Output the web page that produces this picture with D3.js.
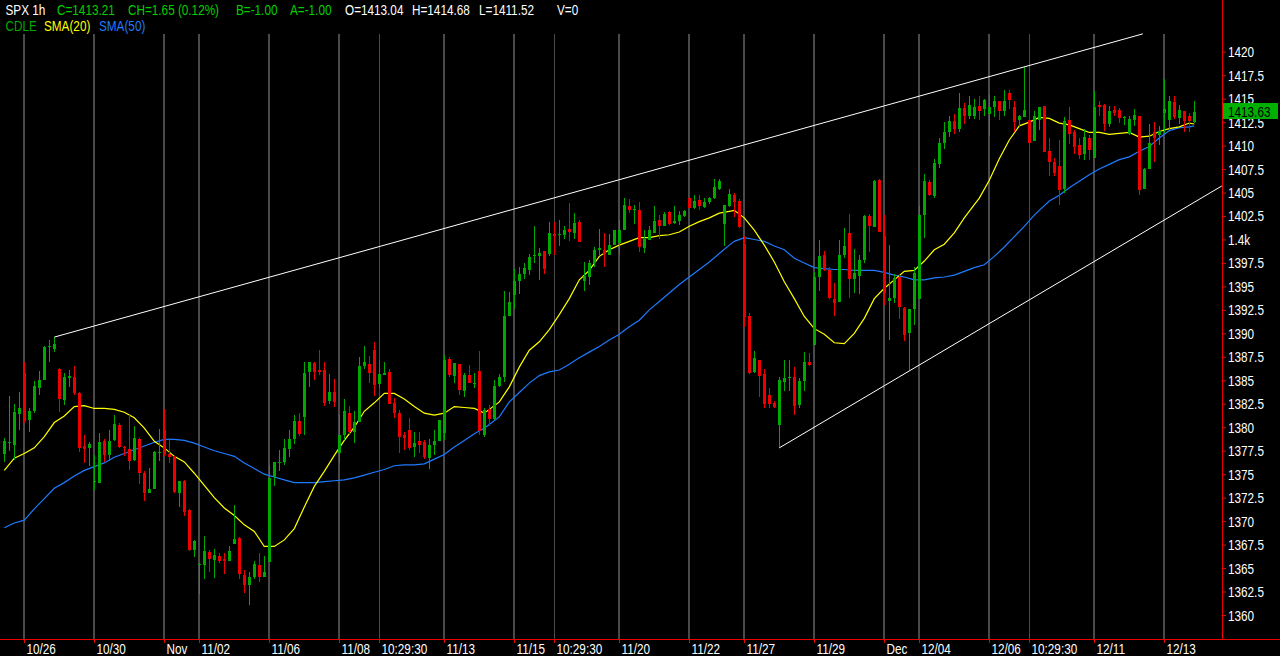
<!DOCTYPE html>
<html><head><meta charset="utf-8">
<script src="https://cdn.jsdelivr.net/npm/d3@7"></script>
<style>html,body{margin:0;padding:0;background:#000;overflow:hidden}</style>
</head><body>
<svg id="c" width="1280" height="656"></svg>
<script>
// ---------- DATA (hourly SPX bars, index 0 = first visible bar) ----------
const opens = [
1377.2,1378.3,1378.1,1381.4,1385.8,1380.8,1381.7,1384.2,1385.0,1388.5,1388.3,1386.2,1382.9,1385.2,1385.4,1383.6,1378.0,1377.8,1374.2,1374.1,
1378.5,1377.0,1378.6,1380.2,1377.9,1377.7,1376.5,1378.7,1375.1,1373.0,1373.4,1377.3,1379.7,1377.2,1376.9,1373.0,1374.3,1371.2,1366.9,1365.4,
1365.3,1366.7,1365.9,1366.3,1366.0,1365.8,1367.6,1368.2,1364.3,1363.2,1364.0,1365.3,1364.0,1365.6,1374.7,1376.2,1376.3,1377.7,1378.7,1380.7,
1381.1,1385.9,1386.8,1386.1,1386.1,1382.8,1383.7,1377.3,1379.2,1381.5,1379.5,1380.6,1386.5,1386.7,1388.2,1384.6,1385.6,1385.9,1382.6,1381.5,
1379.2,1379.7,1377.9,1378.5,1378.4,1376.7,1378.1,1378.5,1379.4,1387.3,1385.5,1386.7,1383.9,1385.6,1384.6,1386.0,1379.2,1381.9,1380.9,1384.4,
1385.4,1391.9,1394.1,1395.6,1396.3,1396.7,1398.2,1398.2,1398.8,1398.5,1400.6,1400.5,1400.5,1401.1,1400.7,1401.9,1395.6,1396.0,1397.5,1398.9,
1398.9,1398.3,1399.4,1399.6,1401.0,1403.6,1403.1,1403.1,1399.1,1399.9,1400.7,1402.1,1401.4,1402.9,1401.8,1402.0,1402.5,1404.4,1403.4,1404.2,
1403.5,1404.0,1404.4,1405.4,1401.6,1403.6,1404.7,1404.1,1399.5,1391.9,1385.9,1387.2,1385.7,1383.4,1382.6,1380.2,1384.8,1385.3,1385.3,1382.4,
1384.9,1386.9,1388.8,1396.0,1398.3,1396.8,1393.7,1393.3,1398.3,1400.7,1395.8,1396.1,1397.8,1402.5,1401.3,1406.3,1400.4,1393.4,1393.8,1396.0,
1392.7,1390.0,1392.6,1393.7,1402.6,1406.1,1404.6,1408.0,1410.3,1411.5,1412.6,1411.8,1414.0,1413.2,1413.1,1414.2,1413.9,1413.4,1414.1,1414.7,
1413.7,1415.6,1414.1,1412.7,1413.0,1412.7,1410.5,1412.7,1414.2,1409.4,1408.2,1407.8,1405.4,1412.7,1411.4,1410.1,1409.1,1410.8,1408.7,1414.3,
1414.3,1412.3,1413.8,1413.8,1413.0,1411.2,1412.7,1413.2,1405.4,1407.5,1411.4,1411.1,1413.5,1412.7,1414.6,1412.9,1413.7,1413.1,1412.5
];
const highs = [
1378.8,1383.3,1382.5,1383.8,1387.0,1382.0,1384.9,1386.0,1388.6,1389.3,1389.6,1386.3,1385.8,1386.1,1386.5,1383.7,1379.2,1378.4,1377.0,1379.4,
1378.7,1379.7,1381.3,1380.4,1378.0,1381.3,1380.1,1378.9,1375.3,1375.7,1377.5,1379.8,1381.9,1378.9,1376.9,1374.3,1374.4,1371.3,1368.0,1365.5,
1368.4,1366.9,1367.0,1366.6,1366.6,1367.3,1371.7,1368.3,1364.8,1364.6,1365.8,1366.6,1366.3,1376.0,1376.3,1377.6,1378.7,1379.7,1381.3,1381.5,
1386.9,1386.9,1386.9,1388.2,1386.9,1385.7,1385.1,1381.3,1383.0,1382.3,1381.7,1387.5,1388.6,1387.6,1389.1,1387.2,1386.9,1386.2,1383.1,1381.8,
1379.5,1381.0,1379.5,1379.5,1378.6,1378.7,1379.7,1380.8,1387.7,1387.5,1386.8,1386.7,1385.8,1386.6,1385.8,1388.1,1382.1,1382.4,1385.0,1385.7,
1394.5,1394.4,1396.9,1397.1,1397.5,1398.5,1401.4,1399.1,1398.8,1401.9,1401.9,1402.1,1401.4,1403.9,1402.8,1402.1,1397.6,1397.8,1399.2,1401.1,
1400.7,1400.6,1401.0,1402.1,1404.4,1404.3,1403.7,1404.0,1401.0,1401.4,1403.6,1402.6,1402.9,1403.0,1403.6,1403.0,1403.1,1407.0,1404.7,1404.7,
1404.4,1404.5,1406.4,1406.4,1403.7,1405.4,1404.9,1404.3,1400.4,1392.2,1388.1,1387.2,1386.2,1384.2,1382.8,1385.3,1387.2,1387.2,1386.4,1385.2,
1388.0,1387.9,1396.5,1399.9,1398.8,1397.1,1395.4,1399.9,1401.2,1402.7,1399.0,1398.3,1402.6,1402.7,1406.3,1406.4,1402.6,1399.4,1396.3,1396.2,
1392.8,1392.6,1397.1,1403.6,1407.0,1406.3,1408.6,1410.8,1412.5,1413.2,1413.4,1415.6,1414.5,1415.3,1415.0,1415.3,1415.0,1415.4,1415.3,1414.7,
1415.9,1415.9,1414.7,1413.3,1418.4,1414.1,1413.7,1414.1,1414.2,1410.8,1408.7,1410.6,1413.0,1414.1,1411.7,1410.8,1411.8,1411.1,1415.8,1414.7,
1414.4,1414.2,1414.2,1414.0,1413.2,1413.1,1413.9,1413.2,1407.6,1412.3,1412.5,1412.1,1417.1,1415.3,1415.3,1414.3,1413.7,1413.5,1414.7
];
const lows = [
1376.3,1377.5,1376.5,1379.7,1380.4,1379.5,1381.5,1383.4,1385.0,1387.0,1388.05,1381.6,1382.4,1384.3,1383.4,1377.4,1376.2,1375.9,1373.3,1374.1,
1376.3,1376.4,1378.5,1377.8,1376.9,1375.4,1376.4,1374.0,1372.1,1373.0,1373.4,1376.4,1376.9,1376.2,1373.0,1371.5,1370.5,1366.8,1366.2,1362.2,
1363.8,1364.6,1363.9,1365.5,1364.4,1365.7,1367.6,1363.8,1362.3,1361.1,1363.8,1363.5,1364.0,1365.6,1373.7,1375.3,1376.0,1376.8,1378.2,1379.1,
1379.2,1384.3,1385.0,1385.6,1382.3,1382.5,1382.2,1376.2,1378.6,1379.3,1378.3,1380.6,1386.2,1384.7,1383.3,1384.2,1385.6,1382.5,1381.0,1377.3,
1377.6,1377.6,1376.8,1377.3,1376.6,1375.5,1377.0,1378.5,1378.6,1385.4,1384.7,1383.4,1383.2,1384.7,1384.2,1379.2,1379.0,1380.1,1380.8,1384.3,
1384.8,1391.9,1392.6,1394.2,1395.8,1396.2,1397.5,1395.7,1396.3,1398.2,1398.3,1399.3,1400.1,1399.8,1400.1,1399.7,1394.5,1395.1,1397.1,1398.3,
1397.1,1398.3,1399.4,1398.4,1401.0,1402.8,1401.7,1398.7,1398.6,1399.9,1400.7,1400.0,1401.4,1401.5,1401.6,1401.5,1402.4,1403.0,1403.2,1403.1,
1403.3,1403.8,1404.3,1405.3,1399.3,1403.5,1402.4,1401.2,1390.7,1385.7,1385.8,1383.2,1382.1,1382.1,1382.1,1377.8,1383.9,1383.9,1381.3,1382.0,
1383.9,1386.5,1388.8,1394.5,1396.6,1393.7,1391.9,1393.3,1398.0,1393.8,1394.3,1394.2,1397.5,1398.7,1401.3,1400.8,1393.0,1389.3,1393.2,1391.5,
1389.2,1386.1,1390.9,1393.7,1400.2,1404.6,1404.4,1407.6,1409.6,1410.9,1411.2,1411.5,1412.3,1412.8,1412.8,1412.7,1413.1,1411.0,1413.0,1412.7,
1413.2,1413.9,1411.5,1412.0,1413.0,1409.9,1410.5,1411.7,1409.3,1406.8,1406.8,1403.7,1405.0,1410.2,1409.1,1408.6,1408.5,1408.5,1408.7,1413.2,
1411.6,1412.0,1413.2,1412.4,1412.2,1411.1,1412.1,1404.7,1405.4,1407.5,1408.3,1410.1,1411.3,1411.7,1412.8,1412.3,1411.4,1411.4,1412.4
];
const closes = [
1378.5,1378.4,1381.6,1382.1,1380.7,1381.7,1384.4,1385.0,1388.5,1388.6,1388.9,1383.0,1385.3,1385.5,1383.6,1377.8,1377.7,1378.2,1374.3,1378.4,
1377.0,1378.5,1380.3,1377.9,1377.8,1376.4,1378.9,1375.1,1373.0,1373.4,1377.4,1377.35,1377.2,1376.8,1373.1,1374.3,1371.0,1366.9,1367.9,1365.45,
1366.8,1366.0,1366.4,1365.8,1365.7,1366.8,1368.1,1364.4,1363.2,1364.0,1365.4,1364.1,1364.6,1374.6,1376.3,1376.3,1377.8,1378.7,1380.7,1379.3,
1385.8,1386.9,1385.9,1385.9,1382.6,1383.7,1382.7,1379.2,1381.7,1379.5,1380.6,1386.5,1386.9,1385.8,1384.5,1385.7,1385.8,1382.5,1381.5,1379.0,
1378.9,1377.8,1378.3,1378.1,1376.8,1378.1,1378.5,1380.8,1387.2,1385.6,1386.8,1384.0,1385.6,1384.7,1384.7,1379.6,1381.8,1380.9,1384.4,1385.4,
1391.9,1393.3,1395.6,1396.3,1397.0,1398.1,1398.3,1398.6,1396.9,1400.7,1400.4,1400.6,1401.0,1400.8,1401.8,1399.7,1396.1,1397.5,1398.9,1399.1,
1398.5,1399.4,1401.0,1401.0,1403.7,1403.1,1403.2,1399.2,1400.1,1401.0,1402.0,1401.4,1402.7,1401.6,1402.0,1402.6,1403.0,1403.4,1404.1,1403.6,
1404.0,1404.4,1405.6,1406.2,1403.7,1404.8,1404.0,1401.3,1391.7,1385.8,1387.4,1385.5,1382.5,1382.5,1382.2,1385.0,1385.2,1385.35,1382.3,1384.9,
1387.0,1386.6,1396.0,1398.2,1396.7,1393.8,1393.2,1398.3,1399.3,1395.8,1396.4,1397.8,1402.5,1401.4,1406.2,1400.8,1394.3,1393.8,1395.9,1392.8,
1389.8,1392.6,1396.4,1402.6,1406.2,1404.7,1408.1,1410.3,1411.5,1412.6,1411.8,1414.0,1413.2,1414.3,1414.1,1413.7,1414.9,1414.1,1414.7,1413.7,
1414.7,1414.9,1412.5,1413.2,1413.8,1410.3,1413.1,1414.1,1409.3,1408.2,1407.1,1405.3,1412.6,1411.2,1409.9,1409.0,1410.9,1409.5,1414.1,1414.1,
1412.3,1413.7,1413.5,1412.9,1413.0,1412.8,1413.3,1405.3,1407.5,1410.3,1410.8,1411.6,1413.9,1414.7,1413.0,1413.8,1412.6,1412.6,1413.63
];
// moving averages (bar index, value)
const sma20Idx = [0,2,4,6,8,10,12,14,16,18,20,22,24,26,28,30,32,34,36,38,40,42,44,46,48,50,52,54,56,58,60,62,64,66,68,70,72,74,76,78,80,82,84,86,88,90,92,94,96,99,101,103,105,107,109,111,113,115,117,119,121,123,125,127,129,131,133,135,137,139,141,143,145,146,148,150,152,154,156,158,160,162,164,166,168,170,172,174,176,178,180,182,184,186,188,190,192,194,195,197,199,201,203,205,207,209,211,213,215,217,219,221,223,225,227,229,231,233,235,237,238];
const sma20 = [1375.4,1376.7,1377.2,1377.8,1379.0,1380.5,1381.2,1382.2,1382.3,1382.0,1382.0,1381.9,1381.6,1381.0,1379.9,1378.5,1377.8,1376.9,1376.3,1375.1,1373.8,1372.5,1371.4,1370.6,1369.6,1368.9,1367.3,1367.3,1368.0,1369.2,1371.5,1373.7,1375.3,1377.0,1378.6,1380.0,1381.7,1382.6,1383.6,1383.6,1383.0,1382.2,1381.5,1381.3,1381.5,1382.2,1382.1,1382.0,1381.5,1382.7,1384.3,1386.4,1388.2,1389.1,1390.4,1392.0,1393.7,1395.7,1396.7,1398.2,1398.9,1399.4,1399.8,1400.2,1400.2,1400.4,1400.5,1400.8,1401.4,1401.9,1402.3,1402.8,1403.0,1403.1,1402.3,1401.0,1399.4,1397.6,1395.5,1393.7,1391.8,1390.5,1389.9,1389.0,1388.9,1390.0,1391.6,1393.7,1394.8,1395.7,1396.6,1396.7,1397.7,1398.9,1399.5,1400.7,1402.3,1403.7,1404.4,1406.3,1408.6,1410.6,1412.1,1412.5,1413.0,1412.9,1412.4,1412.2,1411.8,1411.4,1411.4,1411.2,1411.3,1411.4,1410.9,1411.0,1411.5,1411.8,1412.0,1412.4,1412.3];
const sma50Idx = [0,2,4,6,8,10,12,14,16,18,20,22,24,26,28,30,32,34,36,38,40,42,44,46,48,50,52,54,56,58,60,62,64,66,68,70,72,74,76,78,80,82,84,86,88,90,92,94,96,99,101,103,105,107,109,111,113,115,117,119,121,123,125,127,129,131,133,135,137,139,141,143,145,146,148,150,152,154,156,158,160,162,164,166,168,170,172,174,176,178,180,182,184,186,188,190,192,194,196,198,200,202,204,206,207,209,211,213,215,217,219,221,223,225,227,229,231,233,235,237,238];
const sma50 = [1369.3,1369.8,1370.1,1371.3,1372.4,1373.5,1374.1,1374.8,1375.4,1375.8,1376.2,1376.8,1377.2,1377.6,1378.0,1378.4,1378.7,1378.7,1378.6,1378.3,1377.9,1377.5,1377.2,1376.9,1376.2,1375.6,1375.0,1374.7,1374.4,1374.1,1374.1,1374.1,1374.2,1374.3,1374.4,1374.6,1374.9,1375.2,1375.5,1375.9,1376.0,1376.0,1376.1,1376.6,1377.1,1377.9,1378.6,1379.3,1379.9,1381.1,1382.7,1383.7,1384.7,1385.5,1385.9,1386.1,1386.7,1387.4,1388.0,1388.6,1389.3,1389.9,1390.7,1391.4,1392.5,1393.4,1394.3,1395.2,1396.0,1396.8,1397.6,1398.5,1399.4,1399.8,1400.2,1400.0,1399.8,1399.3,1398.9,1398.0,1397.5,1397.0,1396.9,1396.8,1396.8,1396.7,1396.7,1396.7,1396.5,1396.2,1396.0,1395.7,1395.7,1395.9,1396.0,1396.2,1396.6,1397.0,1397.3,1398.2,1399.2,1400.3,1401.4,1402.6,1403.1,1404.1,1404.7,1405.5,1406.2,1406.9,1407.5,1408.0,1408.5,1408.8,1409.4,1409.9,1410.8,1411.6,1411.9,1412.0,1412.1];
// trend lines: [barIndex, price] end points
const upperTrend = [[10, 1389.6], [227.7, 1421.9]];
const lowerTrend = [[155, 1377.8], [243.5, 1405.7]];
// x-axis (time) ticks
const xTickIdx = [4,18,32,39,53,67,75,88,102,110,123,137,148,162,176,183,197,205,218,232];
const xTickLabels = ["10/26","10/30","Nov","11/02","11/06","11/08","10:29:30","11/13","11/15","10:29:30","11/20","11/22","11/27","11/29","Dec","12/04","12/06","10:29:30","12/11","12/13"];
// y-axis ticks
const yTicks = [1360,1362.5,1365,1367.5,1370,1372.5,1375,1377.5,1380,1382.5,1385,1387.5,1390,1392.5,1395,1397.5,1400,1402.5,1405,1407.5,1410,1412.5,1415,1417.5,1420];
const yTickLabels = ["1360","1362.5","1365","1367.5","1370","1372.5","1375","1377.5","1380","1382.5","1385","1387.5","1390","1392.5","1395","1397.5","1.4k","1402.5","1405","1407.5","1410","1412.5","1415","1417.5","1420"];
const lastPrice = 1413.63;

// ---------- DRAWING ----------
const W = 1280, H = 656, plotR = 1222, plotB = 639;
const FONT = '"Liberation Sans", Arial, sans-serif';
const FS = 14, SX = 0.84;   // tall, narrow glyphs like the original's font
const GREEN = '#00a800', RED = '#ee0000';
const svg = d3.select('#c');
svg.append('rect').attr('width', W).attr('height', H).attr('fill', '#000');

const x = d3.scaleLinear().domain([0, 243.54]).range([4.3, 1222]);
const y = d3.scaleLinear().domain([1360, 1420]).range([615, 51.7]);

// narrow a text element horizontally around its own anchor point
function narrow(sel) {
  sel.each(function () {
    const t = d3.select(this);
    const tx = +t.attr('x') || 0, ty = +t.attr('y') || 0;
    t.attr('x', 0).attr('y', 0)
     .attr('transform', `translate(${tx},${ty}) scale(${SX},1)`);
  });
}

svg.append('defs').append('clipPath').attr('id', 'plot')
  .append('rect').attr('x', 0).attr('y', 0).attr('width', plotR).attr('height', plotB);

// vertical grid lines
const minor = new Set(xTickLabels.map((l, i) => l.includes(':') ? i : -1));
svg.append('g').selectAll('line').data(xTickIdx).join('line')
  .attr('x1', (d, i) => Math.floor(x(d)) + (minor.has(i) ? 0.5 : 0))
  .attr('x2', (d, i) => Math.floor(x(d)) + (minor.has(i) ? 0.5 : 0))
  .attr('y1', 34).attr('y2', plotB)
  .attr('stroke', '#4a4a4a').attr('stroke-width', (d, i) => minor.has(i) ? 1 : 2);

const plot = svg.append('g').attr('clip-path', 'url(#plot)');

// moving averages
const lineGen = d3.line().x(d => x(d[0])).y(d => y(d[1]));
plot.append('path').datum(sma50Idx.map((k, i) => [k, sma50[i]]))
  .attr('d', lineGen).attr('fill', 'none').attr('stroke', '#1e7bff').attr('stroke-width', 1.2);
plot.append('path').datum(sma20Idx.map((k, i) => [k, sma20[i]]))
  .attr('d', lineGen).attr('fill', 'none').attr('stroke', '#ffff00').attr('stroke-width', 1.2);

// candles
const bars = opens.map((o, i) => ({ i, o, h: highs[i], l: lows[i], c: closes[i] }));
const cg = plot.append('g').attr('shape-rendering', 'crispEdges');
cg.selectAll('line').data(bars).join('line')
  .attr('x1', d => Math.floor(x(d.i)) + 0.5).attr('x2', d => Math.floor(x(d.i)) + 0.5)
  .attr('y1', d => y(d.h)).attr('y2', d => y(d.l))
  .attr('stroke', d => d.c >= d.o ? GREEN : RED).attr('stroke-width', 1);
cg.selectAll('rect').data(bars).join('rect')
  .attr('x', d => Math.floor(x(d.i)) - 1).attr('width', 3)
  .attr('y', d => y(Math.max(d.o, d.c)))
  .attr('height', d => Math.max(1, Math.abs(y(d.o) - y(d.c))))
  .attr('fill', d => d.c >= d.o ? GREEN : RED);

// trend lines
[upperTrend, lowerTrend].forEach(t => {
  plot.append('line')
    .attr('x1', x(t[0][0])).attr('y1', y(t[0][1]))
    .attr('x2', x(t[1][0])).attr('y2', y(t[1][1]))
    .attr('stroke', '#fff').attr('stroke-width', 1);
});

// axes frame
svg.append('line').attr('x1', plotR + 0.5).attr('x2', plotR + 0.5).attr('y1', 0).attr('y2', plotB)
  .attr('stroke', '#ee0000');
svg.append('line').attr('x1', 0).attr('x2', W).attr('y1', plotB + 0.5).attr('y2', plotB + 0.5)
  .attr('stroke', '#ee0000');

// y axis
const yAxis = d3.axisRight(y).tickValues(yTicks)
  .tickFormat((d, i) => yTickLabels[i]).tickSize(4).tickPadding(2);
const yg = svg.append('g').attr('transform', `translate(${plotR},0)`).call(yAxis);
yg.select('.domain').remove();
yg.selectAll('line').attr('stroke', '#ee0000');
yg.selectAll('text').attr('fill', '#fff').attr('font-family', FONT).attr('font-size', FS)
  .attr('dy', null).attr('y', 5).call(narrow);

// x axis
const xAxis = d3.axisBottom(x).tickValues(xTickIdx)
  .tickFormat((d, i) => xTickLabels[i]).tickSize(4);
const xg = svg.append('g').attr('transform', `translate(0,${plotB})`).call(xAxis);
xg.select('.domain').remove();
xg.selectAll('.tick').attr('transform', d => `translate(${Math.floor(x(d)) + 0.5},0)`);
xg.selectAll('line').attr('stroke', '#ee0000');
xg.selectAll('text').attr('fill', '#fff').attr('font-family', FONT).attr('font-size', FS)
  .attr('text-anchor', 'start').attr('dy', null).attr('x', 2).attr('y', 14.5).call(narrow);

// last price tag
svg.append('rect').attr('x', 1223).attr('y', y(lastPrice) - 8.5).attr('width', 55).attr('height', 16)
  .attr('fill', '#00b000');
svg.append('text').attr('x', 1228).attr('y', y(lastPrice) + 5).text(d3.format('.2f')(lastPrice))
  .attr('fill', '#000').attr('font-family', FONT).attr('font-size', FS).call(narrow);

// header
const hdr = [
  { t: 'SPX 1h', x: 5.5, y: 15, c: '#fff' },
  { t: 'C=1413.21', x: 57, y: 15, c: '#00d000' },
  { t: 'CH=1.65 (0.12%)', x: 128, y: 15, c: '#00d000' },
  { t: 'B=-1.00', x: 236, y: 15, c: '#00d000' },
  { t: 'A=-1.00', x: 290, y: 15, c: '#00d000' },
  { t: 'O=1413.04', x: 345, y: 15, c: '#fff' },
  { t: 'H=1414.68', x: 412, y: 15, c: '#fff' },
  { t: 'L=1411.52', x: 479, y: 15, c: '#fff' },
  { t: 'V=0', x: 557, y: 15, c: '#fff' },
  { t: 'CDLE', x: 5.5, y: 30.5, c: '#00a800' },
  { t: 'SMA(20)', x: 44, y: 30.5, c: '#ffff00' },
  { t: 'SMA(50)', x: 99, y: 30.5, c: '#1e7bff' }
];
svg.append('g').selectAll('text').data(hdr).join('text')
  .attr('x', d => d.x).attr('y', d => d.y).attr('fill', d => d.c)
  .attr('font-family', FONT).attr('font-size', FS).text(d => d.t).call(narrow);
</script>
</body></html>
